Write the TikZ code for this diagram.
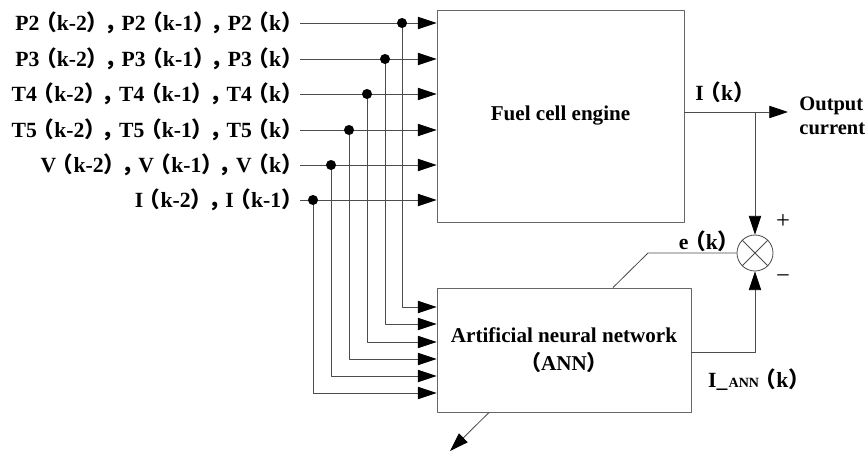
\documentclass[tikz,border=0pt]{standalone}
\usepackage{fontspec}
\setmainfont{Liberation Serif}
\newfontfamily\cjk{Noto Sans CJK SC}
\usetikzlibrary{arrows.meta,calc}
% fullwidth brackets and comma
\newcommand\flp{\kern-0.2em{\cjk （}}
\newcommand\frp{{\cjk ）}\kern-0.2em}
\newcommand\fcm{{\cjk ，}\kern-0.2em}
\tikzset{
  wire/.style={draw=black!70,line width=0.7pt},
  sig/.style={wire,-{Triangle[length=16pt,width=10.5pt,color=black]}},
  blockbox/.style={draw=black!60,line width=0.8pt,rectangle,inner sep=0pt},
  lbl/.style={font=\fontsize{18.5}{22}\selectfont\bfseries,inner sep=1pt}
}
\begin{document}
\begin{tikzpicture}[x=0.03cm,y=-0.03cm,line join=round]
\useasboundingbox (0,0) rectangle (867,452);
% blocks
\node[blockbox,minimum width=7.41cm,minimum height=6.36cm,font=\fontsize{18}{22}\selectfont\bfseries] (fce) at (560.5,116) {Fuel cell engine};
\node[blockbox,minimum width=7.62cm,minimum height=3.72cm,align=center,font=\fontsize{18}{24}\selectfont\bfseries] (ann) at (564,350) {Artificial neural network\\\flp ANN\frp};
\node[circle,draw=black!70,line width=0.7pt,minimum size=1.08cm,inner sep=0pt] (sum) at (755,253) {};
\draw[wire] (sum.north west) -- (sum.south east) (sum.north east) -- (sum.south west);
% input labels
\node[lbl,anchor=east] (p2) at (300,23) {P2\flp k-2\frp\fcm P2\flp k-1\frp\fcm P2\flp k\frp};
\node[lbl,anchor=east] (p3) at (300,59) {P3\flp k-2\frp\fcm P3\flp k-1\frp\fcm P3\flp k\frp};
\node[lbl,anchor=east] (t4) at (300,94) {T4\flp k-2\frp\fcm T4\flp k-1\frp\fcm T4\flp k\frp};
\node[lbl,anchor=east] (t5) at (300,130) {T5\flp k-2\frp\fcm T5\flp k-1\frp\fcm T5\flp k\frp};
\node[lbl,anchor=east] (v) at (300,165) {V\flp k-2\frp\fcm V\flp k-1\frp\fcm V\flp k\frp};
\node[lbl,anchor=east] (i) at (300,200) {I\flp k-2\frp\fcm I\flp k-1\frp};
% branch points
\coordinate (d2) at (402,23);
\coordinate (d3) at (385,59);
\coordinate (d4) at (367,94);
\coordinate (d5) at (349,130);
\coordinate (dv) at (331,165);
\coordinate (di) at (313,200);
% ANN inputs
\coordinate (a2) at (ann.west |- 0,307);
\coordinate (a3) at (ann.west |- 0,324);
\coordinate (a4) at (ann.west |- 0,342);
\coordinate (a5) at (ann.west |- 0,359);
\coordinate (av) at (ann.west |- 0,376);
\coordinate (ai) at (ann.west |- 0,393);
% inputs to engine
\draw[sig] (p2.east) -- (p2.east -| fce.west);
\draw[sig] (p3.east) -- (p3.east -| fce.west);
\draw[sig] (t4.east) -- (t4.east -| fce.west);
\draw[sig] (t5.east) -- (t5.east -| fce.west);
\draw[sig] (v.east) -- (v.east -| fce.west);
\draw[sig] (i.east) -- (i.east -| fce.west);
% inputs to network
\draw[sig] (d2) |- (a2);
\draw[sig] (d3) |- (a3);
\draw[sig] (d4) |- (a4);
\draw[sig] (d5) |- (a5);
\draw[sig] (dv) |- (av);
\draw[sig] (di) |- (ai);
\foreach \d in {d2,d3,d4,d5,dv,di} \fill (\d) circle (4.3pt);
% output and error
\coordinate (ik) at (fce.east |- 0,112);
\coordinate (j) at (755,112);
\coordinate (out) at (788,112);
\draw[sig] (ik) -- (out);
\draw[sig] (j) -- (sum.north);
\draw[sig] (ann.east |- 0,352) -| (sum.south);
\coordinate (e1) at (648,253);
\coordinate (e2) at (ann.north -| 613,0);
\draw[wire] (sum.west) -- (e1) -- (e2);
\coordinate (b1) at (ann.south -| 489,0);
\coordinate (b2) at (450,451);
\draw[sig] (b1) -- (b2);
% labels
\node[lbl] (iklbl) at (723,92) {I\flp k\frp};
\node[lbl,anchor=west,align=left,font=\fontsize{17.5}{21}\selectfont\bfseries] (outlbl) at (798,116) {Output\\current};
\node[lbl] (eklbl) at (707,241) {e\flp k\frp};
\node[lbl] (ialbl) at (757,380) {I\_\kern1pt{\fontsize{12}{12}\selectfont ANN}\flp k\frp};
\node[font=\fontsize{21}{22}\selectfont] (plus) at (783,222) {+};
\node[font=\fontsize{21}{22}\selectfont] (minus) at (783,279) {−};
\end{tikzpicture}
\end{document}
